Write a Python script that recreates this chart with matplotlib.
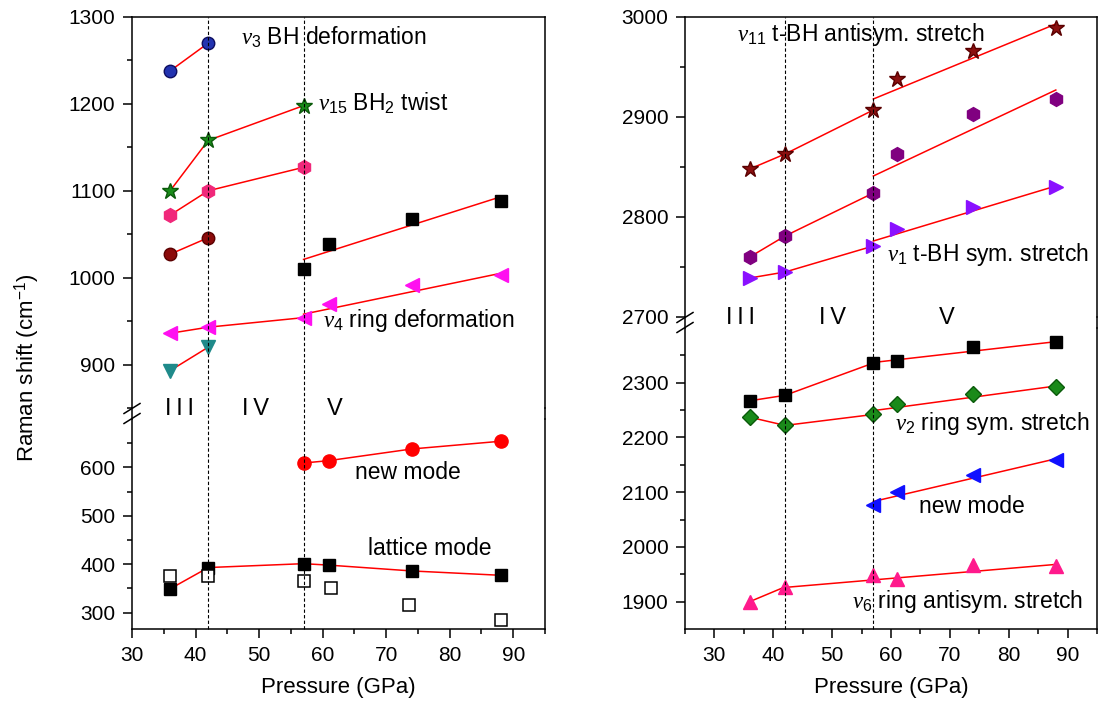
import numpy as np
import matplotlib
matplotlib.use("Agg")
import matplotlib.pyplot as plt
from matplotlib.lines import Line2D
from matplotlib.transforms import blended_transform_factory

plt.rcParams['font.family'] = ['Liberation Sans', 'DejaVu Sans']
plt.rcParams['mathtext.fontset'] = 'custom'
plt.rcParams['mathtext.rm'] = 'Liberation Sans'
plt.rcParams['mathtext.it'] = 'Liberation Serif:italic'
plt.rcParams['axes.linewidth'] = 1.1

# pressures (GPa)
p_two = [36, 42]
p_three = [36, 42, 57]
p_five = [57, 61, 74, 88]
p_all = [36, 42, 57, 61, 74, 88]
p_open = [36, 42, 57, 61.3, 73.6, 88]
p_fit = [57, 88]
p_fit6 = [42, 88]

# left panel, upper part
nu3 = [1238, 1270]
nu15 = [1100, 1158, 1198]
hex_pink = [1072, 1100, 1127]
circ_dred = [1027, 1046]
sq_high = [1010, 1039, 1067, 1088]
sq_high_fit = [1021, 1093]
nu4 = [936, 943, 954, 970, 992, 1003]
nu4_fit = [958, 1005]
tri_teal = [893, 920]

# left panel, lower part
new_mode_l = [609, 614, 638, 654]
lattice = [349, 393, 401, 398, 386, 377]
lattice_open = [376, 376, 365, 350, 315, 285]

# right panel, upper part
nu11 = [2848, 2863, 2907, 2938, 2966, 2989]
nu11_fit = [2918, 2993]
hex_purple = [2760, 2781, 2824, 2863, 2903, 2918]
hex_purple_fit = [2841, 2927]
nu1 = [2739, 2745, 2771, 2788, 2810, 2830]
nu1_fit = [2776, 2831]

# right panel, lower part
sq_low = [2267, 2277, 2336, 2340, 2366, 2374]
sq_low_fit = [2337, 2375]
nu2 = [2237, 2222, 2242, 2262, 2280, 2292]
nu2_fit = [2249, 2294]
new_mode_r = [2076, 2100, 2131, 2159]
new_mode_r_fit = [2083, 2161]
nu6 = [1900, 1927, 1948, 1942, 1967, 1966]
nu6_fit = [1926, 1968]

transitions = [42, 57]
phases = ['I\u2009I\u2009I', 'I\u2009V', 'V']

W, H = 1101, 704
fig = plt.figure(figsize=(W / 100, H / 100), dpi=100)


def px_axes(x0, x1, ytop, ybot):
    return fig.add_axes([x0 / W, 1 - ybot / H, (x1 - x0) / W, (ybot - ytop) / H])


axL1 = px_axes(132, 545, 17, 408)
axL2 = px_axes(132, 545, 419, 629)
axR1 = px_axes(685, 1097, 17, 317)
axR2 = px_axes(685, 1097, 328, 629)

red = dict(color='red', lw=1.1, zorder=2)
fs_tick = 15
fs_note = 16.5


def style(ax, top, xlim, ylim, ymaj, ymin):
    ax.set_xlim(*xlim)
    ax.set_ylim(*ylim)
    ax.set_yticks(ymaj)
    ax.set_yticks(ymin, minor=True)
    ax.tick_params(axis='both', which='both', direction='out', right=False, top=False,
                   labelsize=fs_tick, width=1.1, pad=5.5)
    ax.tick_params(which='major', length=6.5)
    ax.tick_params(which='minor', length=3.6)
    if top:
        ax.spines['bottom'].set_visible(False)
        ax.tick_params(axis='x', which='both', bottom=False, labelbottom=False)
    else:
        ax.spines['top'].set_visible(False)
        ax.set_xticks(np.arange(30, 91, 10))
        ax.set_xticks(np.arange(xlim[0], 96, 5), minor=True)
        ax.set_xlabel('Pressure (GPa)', fontsize=16, labelpad=9)


style(axL1, True, (30, 95), (850, 1300), np.arange(900, 1301, 100), np.arange(850, 1300, 50))
style(axL2, False, (30, 95), (266, 700), np.arange(300, 601, 100), np.arange(350, 700, 100))
style(axR1, True, (25, 95), (2700, 3000), np.arange(2700, 3001, 100), np.arange(2750, 3000, 100))
style(axR2, False, (25, 95), (1850, 2400), np.arange(1900, 2301, 100), np.arange(1950, 2400, 100))

# ---- left upper
ax = axL1
ax.plot(p_two, nu3, **red)
ax.plot(p_two, nu3, 'o', ms=9, mfc='#2233b0', mec='#0d0d60', ls='none', zorder=3)
ax.plot(p_three, nu15, **red)
ax.plot(p_three, nu15, '*', ms=12, mfc='#1a8c1a', mec='#0a5a0a', ls='none', zorder=3)
ax.plot(p_three, hex_pink, **red)
ax.plot(p_three, hex_pink, 'h', ms=10, mfc='#f0287a', mec='#f0287a', ls='none', zorder=3)
ax.plot(p_two, circ_dred, **red)
ax.plot(p_two, circ_dred, 'o', ms=9, mfc='#8b0a0a', mec='#5a0000', ls='none', zorder=3)
ax.plot(p_fit, sq_high_fit, **red)
ax.plot(p_five, sq_high, 's', ms=8, color='black', ls='none', zorder=3)
ax.plot(p_three, nu4[:3], **red)
ax.plot(p_fit, nu4_fit, **red)
ax.plot(p_all, nu4, '<', ms=10, color='#ff10f0', ls='none', zorder=3)
ax.plot(p_two, tri_teal, **red)
ax.plot(p_two, tri_teal, 'v', ms=10, color='#1f8a8a', ls='none', zorder=3)
ax.text(47.2, 1277, r'$\nu_3$ BH deformation', fontsize=fs_note, va='center')
ax.text(59.3, 1201, r'$\nu_{15}$ BH$_2$ twist', fontsize=fs_note, va='center')
ax.text(60.0, 951, r'$\nu_4$ ring deformation', fontsize=fs_note, va='center')

# ---- left lower
ax = axL2
ax.plot(p_five, new_mode_l, **red)
ax.plot(p_five, new_mode_l, 'o', ms=9.5, color='red', ls='none', zorder=3)
ax.plot(p_all, lattice, **red)
ax.plot(p_all, lattice, 's', ms=8, color='black', ls='none', zorder=3)
ax.plot(p_open, lattice_open, 's', ms=8, mfc='white', mec='black', mew=1.1, ls='none', zorder=3)
ax.text(65.1, 590, 'new mode', fontsize=fs_note, va='center')
ax.text(67.1, 432, 'lattice mode', fontsize=fs_note, va='center')
for x, s in zip([35.2, 47.3, 60.6], phases):
    ax.text(x, 721, s, fontsize=17, va='center')

# ---- right upper
ax = axR1
ax.plot(p_three, nu11[:3], **red)
ax.plot(p_fit, nu11_fit, **red)
ax.plot(p_all, nu11, '*', ms=12, mfc='#8b1010', mec='#5a0000', ls='none', zorder=3)
ax.plot(p_three, hex_purple[:3], **red)
ax.plot(p_fit, hex_purple_fit, **red)
ax.plot(p_all, hex_purple, 'h', ms=10, color='#800080', ls='none', zorder=3)
ax.plot(p_three, nu1[:3], **red)
ax.plot(p_fit, nu1_fit, **red)
ax.plot(p_all, nu1, '>', ms=10, color='#8a10ff', ls='none', zorder=3)
ax.text(33.8, 2982, r'$\nu_{11}$ t-BH antisym. stretch', fontsize=fs_note, va='center')
ax.text(59.3, 2762, r'$\nu_1$ t-BH sym. stretch', fontsize=fs_note, va='center')
for x, s in zip([32.0, 47.8, 68.2], phases):
    ax.text(x, 2699, s, fontsize=17, va='center')

# ---- right lower
ax = axR2
ax.plot(p_three, sq_low[:3], **red)
ax.plot(p_fit, sq_low_fit, **red)
ax.plot(p_all, sq_low, 's', ms=8, color='black', ls='none', zorder=3)
ax.plot(p_three, nu2[:3], **red)
ax.plot(p_fit, nu2_fit, **red)
ax.plot(p_all, nu2, 'D', ms=8, mfc='#1a8a1a', mec='#0a5a0a', ls='none', zorder=3)
ax.plot(p_fit, new_mode_r_fit, **red)
ax.plot(p_five, new_mode_r, '<', ms=10, color='#1010ff', ls='none', zorder=3)
ax.plot(p_two, nu6[:2], **red)
ax.plot(p_fit6, nu6_fit, **red)
ax.plot(p_all, nu6, '^', ms=10, color='#ff1a8c', ls='none', zorder=3)
ax.text(60.7, 2226, r'$\nu_2$ ring sym. stretch', fontsize=fs_note, va='center')
ax.text(64.8, 2073, 'new mode', fontsize=fs_note, va='center')
ax.text(53.3, 1901, r'$\nu_6$ ring antisym. stretch', fontsize=fs_note, va='center')

# dashed phase boundaries across both parts, spines through the break, break marks
for top, bot in [(axL1, axL2), (axR1, axR2)]:
    y_top = top.get_position().y1
    y_bot = bot.get_position().y0
    tr = blended_transform_factory(bot.transData, fig.transFigure)
    for xv in transitions:
        fig.add_artist(Line2D([xv, xv], [y_bot, y_top], transform=tr, color='black',
                              lw=0.8, ls=(0, (3, 2)), zorder=1))
    tra = blended_transform_factory(bot.transAxes, fig.transFigure)
    for xs in [0, 1]:
        fig.add_artist(Line2D([xs, xs], [bot.get_position().y1, top.get_position().y0],
                              transform=tra, color='black', lw=1.1))
    xpx = bot.get_position().x0 * W
    ymid = (top.get_position().y0 + bot.get_position().y1) / 2 * H
    for dy in [-5, 5]:
        yc = ymid + dy
        fig.add_artist(Line2D([(xpx - 8) / W, (xpx + 8) / W], [(yc - 5) / H, (yc + 5) / H],
                              transform=fig.transFigure, color='black', lw=1.1))

fig.text(27 / W, 1 - 368 / H, r'Raman shift (cm$^{-1}$)', rotation=90, fontsize=16,
         ha='center', va='center')

fig.savefig('out.png', dpi=100)
